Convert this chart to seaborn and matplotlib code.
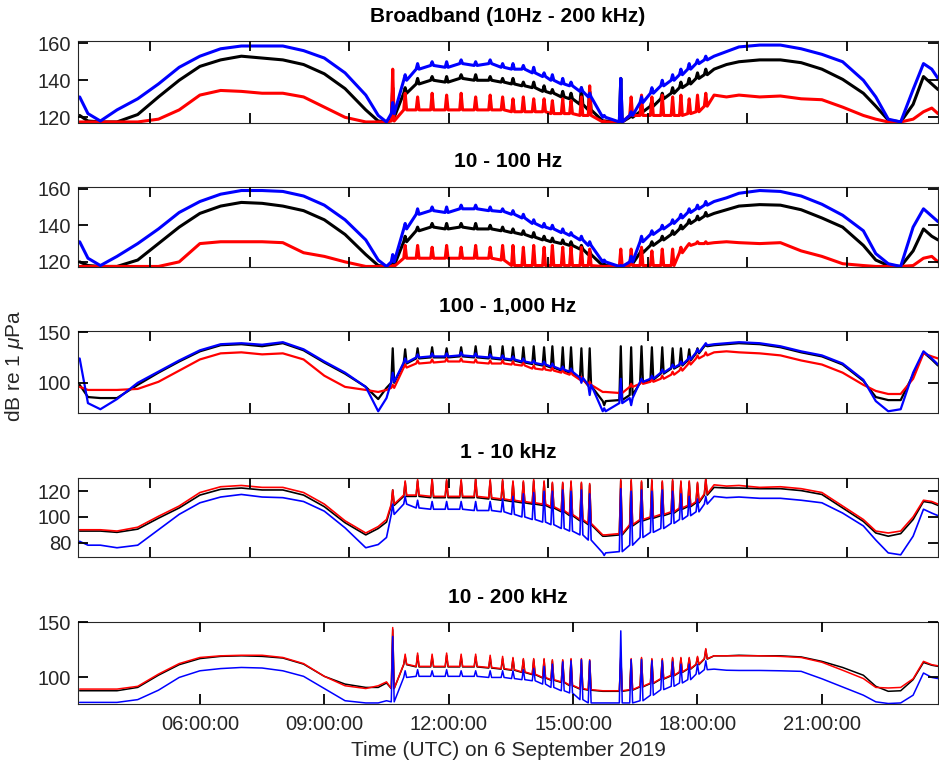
"""
Five-band sound level time series, 6 September 2019.
Black / red / blue traces per band, MATLAB-style stacked panels.
"""

import matplotlib
matplotlib.use("Agg")
import matplotlib.pyplot as plt
import seaborn as sns

# ---- data (dB re 1 uPa) ----
# quiet arc before the spiky section, hours UTC
pre_hours = [3.1, 3.3, 3.6, 4.0, 4.5, 5.0, 5.5, 6.0, 6.5, 7.0, 7.5, 8.0, 8.5, 9.0,
             9.5, 10.0, 10.3, 10.5]
# transient events in the middle of the day (each drawn as base / peak / base)
spike_hours = [10.65, 10.95, 11.25, 11.6, 11.95, 12.3, 12.65, 13.0,
               13.3, 13.55, 13.8, 14.05, 14.3, 14.5, 14.75, 14.95,
               15.2, 15.4, 15.75, 16.15, 16.4, 16.65,
               16.9, 17.15, 17.4, 17.6, 17.8, 18.0, 18.2]
post_hours = [18.4, 18.7, 19.0, 19.5, 20.0, 20.5, 21.0, 21.5, 22.0, 22.3, 22.6, 22.9,
              23.2, 23.45, 23.65, 23.8]

# Broadband (10Hz - 200 kHz)
bb_black_pre = [121, 118, 117.5, 117.5, 121.5, 131, 140, 147.5, 151, 153, 152, 151, 148.5, 143.5, 135.5, 124, 118, 117.5]
bb_black_base = [120, 133, 138, 140, 139, 141, 140, 140,
                 139, 138, 137, 136, 134, 133, 131, 130,
                 127, 124, 118, 117.5, 120, 123,
                 126, 130, 133, 136, 138, 141, 143]
bb_black_peak = [136, 136, 141, 142, 142, 143, 143, 142,
                 141, 141, 139, 139, 137, 135, 134, 133,
                 136, 134, 118, 141, 122, 126,
                 129, 133, 136, 139, 141, 144, 146]
bb_black_post = [146, 148.5, 150, 151, 151, 149.5, 146, 140.5, 133, 126, 118.5, 117.5, 127, 142, 138, 135]

bb_red_pre = [117.5, 117.5, 117.5, 117.5, 117.5, 119, 124, 132, 134.5, 134, 133, 133, 131, 125.5, 120, 117.5, 117.5, 117.5]
bb_red_base = [118, 124, 124, 124, 124, 124, 124, 124,
               124, 123, 123, 123, 123, 122, 122, 122,
               121, 121, 117.5, 117.5, 121, 121,
               121, 121, 121, 121, 122, 123, 126]
bb_red_peak = [146, 133, 131, 133, 132, 133, 131, 132,
               131, 130, 131, 130, 130, 129, 130, 129,
               131, 137, 118, 122, 131, 132,
               131, 132, 131, 132, 130, 132, 133]
bb_red_post = [132, 131, 132, 131, 131.5, 130, 129.5, 125.5, 121, 119, 117.5, 117.5, 119, 123, 125, 122]

bb_blue_pre = [131, 122, 118, 124, 130, 138, 147, 153, 157, 158.5, 158.5, 158.5, 156, 152, 144, 132, 121, 117.5]
bb_blue_base = [122, 140, 146, 148, 147, 149, 148, 149,
                147, 146, 146, 144, 142, 140, 138, 137,
                134, 131, 120, 117.5, 121, 128,
                133, 137, 140, 143, 146, 149, 151]
bb_blue_peak = [128, 143, 149, 150, 150, 151, 150, 151,
                149, 149, 148, 147, 144, 143, 141, 139,
                136, 133, 121, 141, 123, 131,
                136, 140, 143, 146, 149, 151, 153]
bb_blue_post = [153, 155.5, 158, 159, 159, 157, 154, 150, 140, 131, 119, 117.5, 135, 149, 146, 141]

# 10 - 100 Hz
lf_black_pre = [120, 118, 117.5, 117.5, 121, 130, 139, 146.5, 150.5, 152.5, 152, 150.5, 148, 143, 135, 124, 118, 117.5]
lf_black_base = [118, 131, 137, 139, 138, 139, 138, 138,
                 137, 136, 135, 133.5, 132, 131, 130, 129,
                 127, 124, 118, 117.5, 119, 125,
                 129, 132, 135, 138, 141, 143, 145]
lf_black_peak = [121, 134, 139, 141, 141, 141, 141, 140,
                 139, 138, 137, 136, 134, 133, 132, 131,
                 129, 126, 119, 118, 121, 127,
                 131, 134, 137, 140, 143, 145, 147]
lf_black_post = [146.5, 148.5, 150.5, 151.3, 151, 148.5, 144, 139, 129, 121, 118, 117.5, 126, 138, 134, 132]

lf_red_pre = [117.5, 117.5, 117.5, 117.5, 117.5, 117.5, 120, 130, 131, 131, 131, 130.5, 125, 123, 120, 117.5, 117.5, 117.5]
lf_red_base = [117.5, 122, 122, 122, 122, 122, 122, 122,
               121, 118, 118, 118, 118, 118, 118, 118,
               118, 118, 117.5, 117.5, 118, 118,
               118, 118, 118, 125, 129, 130, 130]
lf_red_peak = [118, 129, 129, 128, 129, 128, 129, 128,
               129, 129, 128, 129, 128, 129, 128, 128,
               128, 127, 117.5, 127, 127, 128,
               126, 127, 127, 128, 130, 131, 131]
lf_red_post = [130.5, 131, 130.5, 130, 130.5, 126, 123, 119, 118, 117.5, 117.5, 117.5, 118, 122, 123, 120]

lf_blue_pre = [131, 122, 118, 123, 130, 138, 147, 153, 157, 159, 159, 158.5, 156, 151, 143, 132, 121, 117.5]
lf_blue_base = [120, 138, 146, 148, 147, 149, 149, 148,
                147.5, 146, 144, 141, 139, 138, 136, 134.5,
                132, 129, 120, 117.5, 120, 131,
                135, 138, 141, 144, 147, 149, 151]
lf_blue_peak = [124, 141, 149, 150, 150, 151, 151, 150,
                149, 148, 146, 143, 141, 140, 138, 136,
                134, 131, 121, 118, 123, 134,
                137, 140, 143, 146, 149, 151, 153]
lf_blue_post = [153, 155, 157.5, 159, 158.5, 156, 151.5, 145.5, 137, 124.5, 119, 117.5, 139, 149, 145, 142]

# 100 - 1,000 Hz
mf_black_pre = [98, 86, 85, 85, 98, 110, 121, 131, 137, 138, 136, 139, 132, 120, 109, 96, 84, 95]
mf_black_base = [100, 119, 124, 125, 125, 126, 125, 124,
                 123, 122, 120, 118.5, 117, 115, 112, 110,
                 104, 97, 82, 83, 88, 100,
                 103, 109, 114, 117, 122, 129, 136]
mf_black_peak = [134, 133, 134, 135, 134, 135, 136, 136,
                 136, 135, 135, 136, 135, 136, 135, 135,
                 134, 134, 78, 136, 135, 136,
                 135, 135, 134, 134, 133, 134, 137]
mf_black_post = [137, 138, 139, 138, 135, 130, 126, 118, 102, 86, 83, 83, 108, 130, 123, 117]

mf_red_pre = [96, 93, 93, 93, 94, 101, 112, 123, 129, 130, 128, 129, 123, 107, 96, 93, 91, 93]
mf_red_base = [95, 115, 119, 120, 121, 121, 120, 119,
               119, 118, 117, 114, 113, 112, 110, 108,
               103, 98, 91, 90, 96, 99,
               101, 104, 108, 112, 118, 124, 127]
mf_red_peak = [98, 118, 122, 123, 124, 124, 123, 122,
               122, 121, 120, 117, 116, 115, 113, 111,
               106, 101, 91, 93, 99, 102,
               104, 107, 111, 115, 121, 127, 130]
mf_red_post = [130, 131, 130, 129, 127, 122, 118, 110, 98, 92, 89, 89, 104, 129, 126, 124]

mf_blue_pre = [124, 80, 74, 84, 100, 111, 122, 132, 138, 139, 137.5, 140, 133, 121, 110, 96, 72, 85]
mf_blue_base = [101, 120, 125, 126, 126, 127, 126, 125,
                124, 123, 121, 119.5, 118, 116, 113, 111,
                105, 98, 72, 80, 85, 101,
                104, 110, 115, 118, 123, 130, 137]
mf_blue_peak = [110, 124, 128, 129, 129, 130, 129, 128,
                127, 126, 124, 122, 121, 119, 116, 114,
                100, 88, 75, 104, 78, 104,
                107, 113, 118, 121, 126, 133, 139]
mf_blue_post = [138, 139, 140, 139, 136, 131, 127, 119, 103, 82, 72, 74, 110, 131, 124, 118]

# 1 - 10 kHz
hf_black_pre = [89, 89, 89, 88, 90.5, 99, 107, 117, 121.5, 122.5, 121, 121, 117, 108, 95.5, 86, 91, 96]
hf_black_base = [109, 116, 116, 115, 115, 115, 115, 114,
                 113, 112, 111, 110, 109, 107, 104, 101,
                 97, 94, 85, 86, 93, 97,
                 99, 101, 103, 106, 108, 111, 117]
hf_black_peak = [121, 127, 128, 129, 128, 128, 129, 128,
                 128, 127, 127, 128, 127, 126, 126, 127,
                 126, 125, 85, 128, 128, 127,
                 128, 127, 128, 127, 127, 126, 129]
hf_black_post = [123, 122.5, 122.5, 122, 122, 120.5, 117.5, 107, 96.5, 87.5, 85, 87, 98, 112, 111, 109]

hf_red_pre = [90, 90, 90, 89, 92, 100.5, 108.5, 119, 123.5, 124.5, 123, 123, 119, 110, 97, 87.5, 92.5, 98]
hf_red_base = [110, 117, 117, 116, 116, 116, 116, 115,
               114, 113, 112, 111, 110, 108, 105, 102,
               98, 95, 86, 87, 94, 98,
               100, 102, 104, 107, 109, 112, 118]
hf_red_peak = [121, 128, 129, 130, 129, 129, 130, 129,
               129, 128, 128, 129, 128, 127, 127, 128,
               127, 126, 86, 129, 129, 128,
               129, 128, 129, 128, 128, 127, 130]
hf_red_post = [125, 124, 124.5, 123, 123.5, 122, 119, 108.5, 98, 89, 87.5, 89, 100, 113, 112, 110]

hf_blue_pre = [81, 78, 78, 76, 78, 90, 102, 111, 115.5, 117.5, 115.5, 115, 112, 104.5, 91.5, 76, 78.5, 84]
hf_blue_base = [102, 110, 107, 106, 106, 106, 105, 105,
                104, 102, 100, 98, 96, 94, 91, 89,
                86, 82, 72, 73, 78, 84,
                88, 91, 95, 98, 101, 104, 110]
hf_blue_peak = [110, 116, 113, 112, 112, 112, 112, 112,
                114, 116, 118, 119, 120, 120, 121, 120,
                121, 118, 70, 122, 120, 121,
                120, 121, 120, 118, 116, 114, 116]
hf_blue_post = [116, 115, 115.5, 114.5, 114.5, 113, 111, 103, 93, 82, 72, 70.5, 85, 106, 103, 101]

# 10 - 200 kHz
uf_black_pre = [88, 88, 88, 88, 91, 102, 111.5, 117, 119, 119.5, 119, 117.5, 112, 101, 94, 91, 91, 95]
uf_black_base = [90, 111.5, 109.5, 109.5, 109.5, 109.5, 109.5, 108.5,
                 107.5, 106.5, 104.5, 102.5, 99.5, 97.5, 95.5, 92.5,
                 89.5, 88.5, 87.5, 87.5, 88.5, 91.5,
                 94.5, 98.5, 101.5, 104.5, 107.5, 111.5, 116.5]
uf_black_peak = [143, 119, 120, 119, 120, 119, 119, 118,
                 117, 117, 116, 116, 116, 115, 115, 116,
                 116, 115, 87.5, 119, 116, 117,
                 116, 116, 117, 117, 117, 118, 125]
uf_black_post = [119.5, 119.5, 120, 119.5, 119.5, 118.5, 114.5, 109, 102, 92, 87.5, 88, 98, 113.5, 111, 110]

uf_red_pre = [89.5, 89.5, 89.5, 89.5, 92, 103, 112.5, 118, 119.5, 120, 120, 118, 112.5, 101, 92.5, 90, 92.5, 96]
uf_red_base = [90, 112, 110, 110, 110, 110, 110, 109,
               108, 107, 105, 103, 100, 98, 96, 93,
               90, 89, 88, 88, 89, 92,
               95, 99, 102, 105, 108, 112, 117]
uf_red_peak = [145, 121, 122, 121, 122, 121, 121, 120,
               119, 118, 117, 117, 117, 116, 116, 117,
               117, 116, 88, 120, 117, 118,
               117, 117, 118, 118, 118, 119, 126]
uf_red_post = [119.5, 119.5, 119.5, 119.5, 119, 118, 113.7, 106.5, 99, 91, 90.5, 91, 98.8, 114.5, 111.5, 110.5]

uf_blue_pre = [77.5, 77.5, 77.5, 77.5, 80, 88.5, 100, 106, 108, 109, 108.5, 106, 101, 90, 79, 77, 77, 79]
uf_blue_base = [78, 100, 101, 101, 101, 101, 101, 100,
                100, 99, 98, 97, 94, 91, 88, 86,
                80, 77, 77, 77, 77, 79,
                84, 89, 92, 95, 98, 103, 107]
uf_blue_peak = [137, 106, 107, 106, 107, 106, 106, 106,
                106, 106, 107, 108, 110, 112, 114, 115,
                116, 115, 77, 142, 116, 116,
                115, 115, 114, 112, 112, 112, 115]
uf_blue_post = [107.5, 106.5, 106.3, 106.3, 106, 105.5, 98.8, 91.4, 84, 78, 76.5, 77, 84, 104, 100, 99]

titles = ["Broadband (10Hz - 200 kHz)", "10 - 100 Hz", "100 - 1,000 Hz",
          "1 - 10 kHz", "10 - 200 kHz"]
y_ticks = [[120, 140, 160], [120, 140, 160], [100, 150], [80, 100, 120], [100, 150]]
time_ticks = [6, 9, 12, 15, 18, 21]
time_labels = ["06:00:00", "09:00:00", "12:00:00", "15:00:00", "18:00:00", "21:00:00"]
minor_ticks = [4.8, 7.2, 9.6, 12.0, 14.4, 16.8, 19.2, 21.6]   # 0.1-day ticks, upper panels


def build(pre, base, peak, post):
    """Stitch arc + spike section into one trace (each spike: base, peak, base)."""
    mid = []
    for b, p in zip(base, peak):
        mid += [b, p, b]
    return pre + mid + post


hours = list(pre_hours)
for t in spike_hours:
    hours += [t - 0.035, t, t + 0.035]
hours += post_hours

panels = [
    [(bb_black_pre, bb_black_base, bb_black_peak, bb_black_post, "black"),
     (bb_red_pre, bb_red_base, bb_red_peak, bb_red_post, "red"),
     (bb_blue_pre, bb_blue_base, bb_blue_peak, bb_blue_post, "blue")],
    [(lf_black_pre, lf_black_base, lf_black_peak, lf_black_post, "black"),
     (lf_red_pre, lf_red_base, lf_red_peak, lf_red_post, "red"),
     (lf_blue_pre, lf_blue_base, lf_blue_peak, lf_blue_post, "blue")],
    [(mf_black_pre, mf_black_base, mf_black_peak, mf_black_post, "black"),
     (mf_red_pre, mf_red_base, mf_red_peak, mf_red_post, "red"),
     (mf_blue_pre, mf_blue_base, mf_blue_peak, mf_blue_post, "blue")],
    [(hf_black_pre, hf_black_base, hf_black_peak, hf_black_post, "black"),
     (hf_red_pre, hf_red_base, hf_red_peak, hf_red_post, "red"),
     (hf_blue_pre, hf_blue_base, hf_blue_peak, hf_blue_post, "blue")],
    [(uf_black_pre, uf_black_base, uf_black_peak, uf_black_post, "black"),
     (uf_red_pre, uf_red_base, uf_red_peak, uf_red_post, "red"),
     (uf_blue_pre, uf_blue_base, uf_blue_peak, uf_blue_post, "blue")],
]

# ---- style ----
sns.set_style("white")
plt.rcParams.update({
    "font.family": ["Liberation Sans", "DejaVu Sans"],
    "mathtext.fontset": "custom",
    "mathtext.it": "Liberation Sans:italic",
    "mathtext.rm": "Liberation Sans",
    "mathtext.fallback": "cm",
    "axes.axisbelow": False,
    "xtick.bottom": True, "xtick.top": True,
    "ytick.left": True, "ytick.right": True,
    "xtick.direction": "in", "ytick.direction": "in",
})
axis_grey = "#262626"

W, H = 939, 768
fig = plt.figure(figsize=(W / 100, H / 100), dpi=100)

ax_left, ax_right = 78, 938
tops = [41, 186.5, 331, 477.5, 622]
heights = [81.5, 80.5, 82, 79.5, 81.5]
ylims = [(117.2, 161.2), (117.2, 161.2), (70.3, 151), (68.8, 130.7), (76.5, 150)]
widths = [2.2, 2.2, 1.6, 1.2, 1.1]

for i, traces in enumerate(panels):
    top, h = tops[i], heights[i]
    ax = fig.add_axes([ax_left / W, 1 - (top + h) / H, (ax_right - ax_left) / W, h / H])
    for pre, base, peak, post, col in traces:
        sns.lineplot(x=hours, y=build(pre, base, peak, post), ax=ax, color=col,
                     linewidth=widths[i], estimator=None, sort=False)

    ax.set_xlim(3.06, 23.8)
    ax.set_ylim(*ylims[i])
    ax.set_yticks(y_ticks[i])
    ax.set_ylabel("")
    ax.set_title(titles[i], fontsize=15, fontweight="bold", pad=14, color="black")
    if i == len(panels) - 1:
        ax.set_xticks(time_ticks)
        ax.set_xticklabels(time_labels)
        ax.set_xlabel("Time (UTC) on 6 September 2019", fontsize=15,
                      color=axis_grey, labelpad=5)
    else:
        ax.set_xticks(minor_ticks)
        ax.set_xticklabels([])
        ax.set_xlabel("")
    ax.set_axisbelow(False)
    ax.tick_params(which="major", direction="in", bottom=True, left=True, top=True,
                   right=True, length=7, width=1.3, color="black",
                   labelsize=14.5, labelcolor=axis_grey)
    ax.tick_params(axis="x", pad=8)
    ax.tick_params(axis="y", pad=5)
    for sp in ax.spines.values():
        sp.set_visible(True)
        sp.set_color(axis_grey)
        sp.set_linewidth(0.8)

fig.text(15 / W, 1 - 366 / H, r"dB re 1 $\mu$Pa", rotation=90, ha="center",
         va="center", fontsize=15, color=axis_grey)

fig.savefig("out.png", dpi=100)
